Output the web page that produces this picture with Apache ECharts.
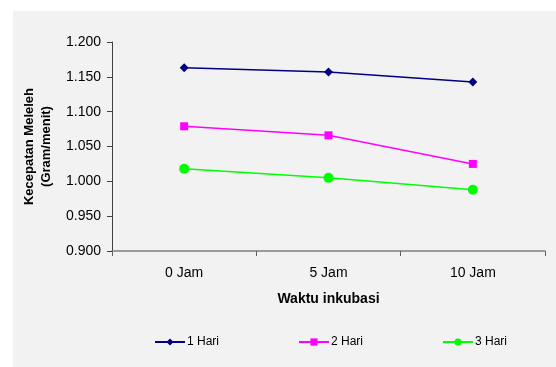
<!DOCTYPE html>
<html><head><meta charset="utf-8">
<script src="https://cdn.jsdelivr.net/npm/echarts@6/dist/echarts.min.js"></script>
<style>html,body{margin:0;padding:0;background:#fff}#c{width:556px;height:367px}</style>
</head><body><div id="c"></div>
<script>
const categories = ['0 Jam', '5 Jam', '10 Jam'];
const hari1 = [1.163, 1.157, 1.1425];
const hari2 = [1.079, 1.066, 1.025];
const hari3 = [1.018, 1.005, 0.988];
const seriesNames = ['1 Hari', '2 Hari', '3 Hari'];
const yTicks = { min: 0.9, max: 1.2, interval: 0.05 };

const chart = echarts.init(document.getElementById('c'), null, { renderer: 'canvas' });
const font = 'Liberation Sans, Arial, sans-serif';
const colors = ['#000080', '#ff00ff', '#00ff00'];
const symbols = ['diamond', 'rect', 'circle'];
const sizes = [9, 8, 10];
const datas = [hari1, hari2, hari3];
const legendLeft = [154, 298, 442];

chart.setOption({
  backgroundColor: '#ffffff',
  animation: false,
  graphic: [{ type: 'rect', shape: { x: 13, y: 11, width: 543, height: 356 }, style: { fill: '#f2f2f2' }, z: -10, silent: true }],
  grid: { left: 112, right: 11, top: 42, bottom: 116, containLabel: false },
  legend: seriesNames.map((n, i) => ({
    data: [n], left: legendLeft[i], top: 336, itemWidth: 30, itemHeight: 9, itemGap: 0, padding: 0,
    textStyle: { fontFamily: font, fontSize: 12, color: '#000', padding: [0, 0, 0, -3] }
  })),
  xAxis: {
    type: 'category', data: categories, boundaryGap: true,
    axisLine: { lineStyle: { color: '#808080', width: 1.5 } },
    axisTick: { show: true, length: 5, lineStyle: { color: '#606060' } },
    axisLabel: { fontFamily: font, fontSize: 14, color: '#000', margin: 15 },
    name: 'Waktu inkubasi', nameLocation: 'middle', nameGap: 41,
    nameTextStyle: { fontFamily: font, fontSize: 14, fontWeight: 'bold', color: '#000' },
    splitLine: { show: false }
  },
  yAxis: {
    type: 'value', min: yTicks.min, max: yTicks.max, interval: yTicks.interval,
    axisLine: { show: true, lineStyle: { color: '#404040', width: 1 } },
    axisTick: { show: true, length: 5, lineStyle: { color: '#404040' } },
    axisLabel: { fontFamily: font, fontSize: 14, color: '#000', margin: 11, formatter: v => v.toFixed(3) },
    splitLine: { show: false },
    name: 'Kecepatan Meleleh\n(Gram/menit)', nameLocation: 'middle', nameGap: 57, nameRotate: 90,
    nameTextStyle: { fontFamily: font, fontSize: 13, fontWeight: 'bold', color: '#000', lineHeight: 17, align: 'center' }
  },
  series: seriesNames.map((n, i) => ({
    name: n, type: 'line', data: datas[i], symbol: symbols[i], symbolSize: sizes[i],
    lineStyle: { color: colors[i], width: 1.5 }, itemStyle: { color: colors[i] }
  }))
});
</script></body></html>
